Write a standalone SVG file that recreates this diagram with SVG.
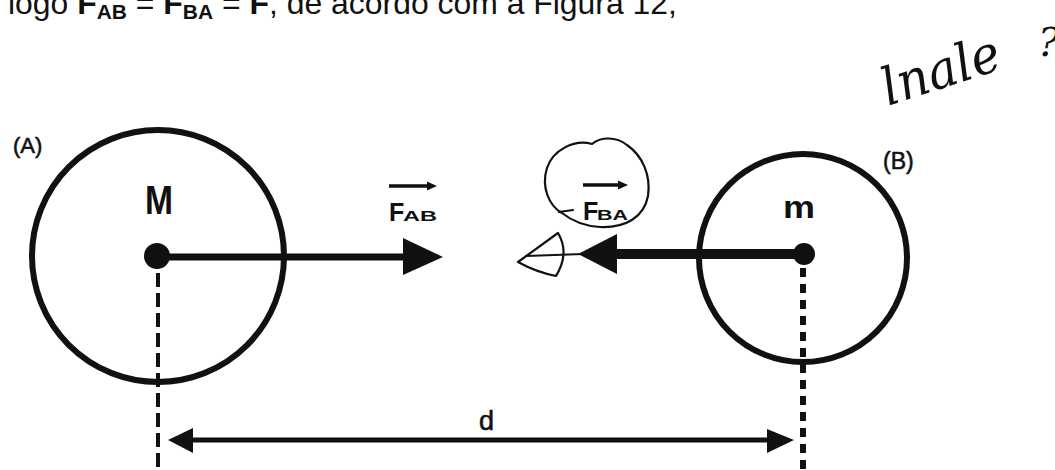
<svg xmlns="http://www.w3.org/2000/svg" width="1055" height="470" viewBox="0 0 1055 470">
<style>
.t{font-family:"Liberation Sans",Arial,sans-serif;fill:#111}
.b{font-weight:bold}
.s{stroke:#111;stroke-width:0.6}
.ring{fill:none;stroke:#111;stroke-width:6}
.dot{fill:#111}
.ln{stroke:#111;fill:none}
.head{fill:#111;stroke:none}
.hand{fill:none;stroke:#111;stroke-width:2.2;stroke-linecap:round;stroke-linejoin:round}
.hw{font-family:"DejaVu Serif","Liberation Serif",serif;font-style:italic;fill:#111}
</style>
<rect width="1055" height="470" fill="#fff"/>

<text class="t" x="8" y="14" font-size="32" textLength="669" lengthAdjust="spacingAndGlyphs">logo <tspan class="b">F</tspan><tspan class="b" font-size="21" dy="5">AB</tspan><tspan dy="-5"> = </tspan><tspan class="b">F</tspan><tspan class="b" font-size="21" dy="5">BA</tspan><tspan dy="-5"> = </tspan><tspan class="b">F</tspan>, de acordo com a Figura 12,</text>

<text class="hw" x="0" y="0" font-size="52" textLength="122" lengthAdjust="spacingAndGlyphs" transform="translate(888,106) rotate(-18)">lnale</text>
<text class="hw" x="1038" y="56" font-size="40">?</text>

<g id="nodeA">
  <circle class="ring" cx="158" cy="256" r="126"/>
  <circle class="dot" cx="157" cy="256" r="13"/>
  <text class="t s" x="13" y="153" font-size="22">(A)</text>
  <text class="t b" x="145" y="214" font-size="40" textLength="28" lengthAdjust="spacingAndGlyphs">M</text>
</g>

<g id="nodeB">
  <circle class="ring" cx="803" cy="258" r="104"/>
  <circle class="dot" cx="804" cy="254" r="11"/>
  <text class="t s" x="883" y="169" font-size="23">(B)</text>
  <text class="t b" x="783" y="218" font-size="31" textLength="32" lengthAdjust="spacingAndGlyphs">m</text>
</g>

<g id="connectors">
  <!-- F_AB -->
  <line class="ln" x1="160" y1="257" x2="406" y2="257" stroke-width="7"/>
  <polygon class="head" points="403,238 443,257 403,275"/>
  <!-- F_BA -->
  <line class="ln" x1="800" y1="254" x2="614" y2="254" stroke-width="10"/>
  <polygon class="head" points="617,234 578,254 617,274"/>
  <!-- dimension d -->
  <line class="ln" x1="188" y1="440" x2="772" y2="440" stroke-width="5"/>
  <polygon class="head" points="193,428 168,440 193,453"/>
  <polygon class="head" points="767,429 794,440 767,453"/>
  <!-- dashed verticals -->
  <line class="ln" x1="158" y1="273" x2="158" y2="470" stroke-width="4" stroke-dasharray="14 6"/>
  <line class="ln" x1="803" y1="268" x2="803" y2="470" stroke-width="6" stroke-dasharray="9 7"/>
</g>

<g id="label-FAB">
  <line class="ln" x1="389" y1="186" x2="430" y2="186" stroke-width="3.5"/>
  <polygon class="head" points="427,181.5 437,186 427,190.5"/>
  <text class="t b" x="389" y="221" font-size="25">F</text>
  <text class="t b" x="403" y="221" font-size="15" textLength="34" lengthAdjust="spacingAndGlyphs">AB</text>
</g>

<g id="label-FBA">
  <line class="ln" x1="583" y1="185" x2="621" y2="185" stroke-width="3.5"/>
  <polygon class="head" points="618,180.5 628,185 618,189.5"/>
  <text class="t b" x="583" y="220" font-size="25">F</text>
  <text class="t b" x="597" y="220" font-size="15" textLength="31" lengthAdjust="spacingAndGlyphs">BA</text>
</g>

<g id="annotation">
  <path class="hand" d="M562,213 C549,206 541,187 547,168 C553,150 574,139 592,144 C600,137 616,136 627,145 C643,156 651,176 648,196 C644,217 626,228 600,227 C584,226 572,221 562,213"/>
  <line class="hand" x1="559" y1="212" x2="573" y2="210" stroke-width="3"/>
  <path class="hand" d="M518,262 L558,233 Q570,253 556,276 Q536,272 518,262 Z"/>
  <line class="hand" x1="526" y1="256" x2="583" y2="254" stroke-width="2"/>
</g>

<text class="t s" x="479" y="430" font-size="27">d</text>
</svg>
